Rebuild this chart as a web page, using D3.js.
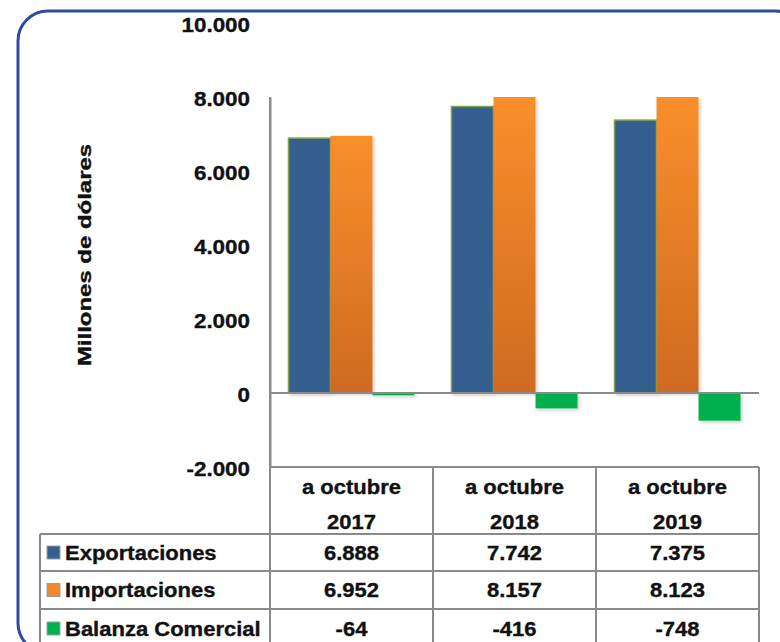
<!DOCTYPE html>
<html>
<head>
<meta charset="utf-8">
<script src="https://cdn.jsdelivr.net/npm/d3@7"></script>
<style>
  html, body { margin: 0; padding: 0; background: #fff; }
  svg { display: block; }
  text { font-family: "Liberation Sans", Arial, sans-serif; font-weight: bold; fill: #111; stroke: #111; stroke-width: 0.35px; }
</style>
</head>
<body>
<script>
const w = 780;
const h = 642;

// data
const years = ['2017', '2018', '2019'];
const headerTop = 'a octubre';
const series = ['Exportaciones', 'Importaciones', 'Balanza Comercial'];
const exportaciones = [6888, 7742, 7375];
const importaciones = [6952, 8157, 8123];
const balanza = [-64, -416, -748];
const yTicks = [-2000, 0, 2000, 4000, 6000, 8000, 10000];
const yTitle = 'Millones de dólares';

const colors = { 'Exportaciones': '#365e8f', 'Importaciones': 'url(#orangeGrad)', 'Balanza Comercial': '#00b050' };
const legendColors = ['#365e8f', '#f28a2c', '#00b050'];
const values = [exportaciones, importaciones, balanza];

const loc = d3.formatLocale({ decimal: ',', thousands: '.', grouping: [3], currency: ['', ''], minus: '-' });
const fmt = loc.format(',d');

const plotLeft = 270, plotRight = 759, plotTop = 97, plotBottom = 467;
const rowYs = [467, 534, 571, 609, 648];
const tableLeft = 40;

const svg = d3.select('body').append('svg').attr('width', w).attr('height', h);

const defs = svg.append('defs');
const og = defs.append('linearGradient').attr('id', 'orangeGrad').attr('x1', 0).attr('y1', 0).attr('x2', 0).attr('y2', 1);
og.append('stop').attr('offset', '0%').attr('stop-color', '#f98f2c');
og.append('stop').attr('offset', '100%').attr('stop-color', '#cf6a20');
const sh = defs.append('filter').attr('id', 'shadow').attr('x', '-20%').attr('y', '-20%').attr('width', '150%').attr('height', '150%');
sh.append('feDropShadow').attr('dx', 2).attr('dy', 2).attr('stdDeviation', 1.5).attr('flood-color', '#000').attr('flood-opacity', 0.18);

// frame
svg.append('rect').attr('x', 18).attr('y', 11).attr('width', 787).attr('height', 642)
  .attr('rx', 30).attr('fill', '#fff').attr('stroke', '#2c4ca0').attr('stroke-width', 3);

// stretch helper: the source text is a bit wider than the font
function stretch(sel, k) {
  sel.each(function () {
    const len = this.getComputedTextLength();
    d3.select(this).attr('textLength', len * k).attr('lengthAdjust', 'spacingAndGlyphs');
  });
}

const y = d3.scaleLinear().domain([-2000, 8000]).range([plotBottom, plotTop]);
const x = d3.scaleBand().domain(years).range([plotLeft, plotRight]);
const xi = d3.scaleBand().domain(series).range([0, x.bandwidth()]).paddingOuter(0.44);

// y axis
const yAxis = svg.append('g').attr('transform', `translate(${plotLeft},0)`)
  .call(d3.axisLeft(y).tickValues(yTicks).tickSize(0).tickPadding(20).tickFormat(fmt));
yAxis.select('.domain').attr('stroke', '#8a8a8a').attr('stroke-width', 2);
yAxis.selectAll('.tick text').attr('font-size', 20).attr('fill', '#111')
  .attr('font-family', '"Liberation Sans", Arial, sans-serif').attr('font-weight', 'bold')
  .attr('dy', '0.42em').call(stretch, 1.12);

svg.append('text')
  .attr('transform', `translate(91,255) rotate(-90)`)
  .attr('text-anchor', 'middle').attr('font-size', 18)
  .text(yTitle).call(stretch, 1.33);

// bars
const bars = svg.append('g').attr('filter', 'url(#shadow)');
years.forEach((yr, i) => {
  series.forEach((s, j) => {
    const v = Math.min(values[j][i], 8000);
    const y0 = y(Math.max(0, v)), y1 = y(Math.min(0, v));
    const r = bars.append('rect')
      .attr('x', x(yr) + xi(s)).attr('width', xi.bandwidth())
      .attr('y', y0).attr('height', Math.max(1, y1 - y0))
      .attr('fill', colors[s]);
    if (j === 0) r.attr('stroke', '#7fa34b').attr('stroke-width', 1.5);
  });
});

// zero line
svg.append('line').attr('x1', plotLeft).attr('x2', plotRight).attr('y1', y(0)).attr('y2', y(0))
  .attr('stroke', '#8a8a8a').attr('stroke-width', 2);

// data table
const grid = svg.append('g').attr('stroke', '#8a8a8a').attr('stroke-width', 2).attr('fill', 'none');
grid.append('line').attr('x1', plotLeft).attr('x2', plotRight).attr('y1', rowYs[0]).attr('y2', rowYs[0]);
rowYs.slice(1).forEach(ry => {
  grid.append('line').attr('x1', tableLeft).attr('x2', plotRight).attr('y1', ry).attr('y2', ry);
});
grid.append('line').attr('x1', tableLeft).attr('x2', tableLeft).attr('y1', rowYs[1]).attr('y2', h);
[...years.map(yr => x(yr)), plotRight].forEach(cx => {
  grid.append('line').attr('x1', cx).attr('x2', cx)
    .attr('y1', cx === plotLeft ? plotTop : rowYs[0]).attr('y2', h);
});

years.forEach(yr => {
  const cx = x(yr) + x.bandwidth() / 2;
  svg.append('text').attr('x', cx).attr('y', 487).attr('dy', '0.35em').attr('text-anchor', 'middle')
    .attr('font-size', 20).text(headerTop).call(stretch, 1.1);
  svg.append('text').attr('x', cx).attr('y', 522).attr('dy', '0.35em').attr('text-anchor', 'middle')
    .attr('font-size', 20).text(yr).call(stretch, 1.1);
});

series.forEach((s, j) => {
  const cy = (rowYs[j + 1] + rowYs[j + 2]) / 2;
  svg.append('rect').attr('x', 47).attr('y', cy - 6.5).attr('width', 13).attr('height', 13)
    .attr('fill', legendColors[j]).attr('stroke', '#9aa0a0').attr('stroke-width', 1);
  svg.append('text').attr('x', 65).attr('y', cy).attr('dy', '0.36em').attr('font-size', 20)
    .text(s).call(stretch, 1.1);
  years.forEach((yr, i) => {
    svg.append('text').attr('x', x(yr) + x.bandwidth() / 2).attr('y', cy).attr('dy', '0.36em')
      .attr('text-anchor', 'middle').attr('font-size', 20)
      .text(fmt(values[j][i])).call(stretch, 1.1);
  });
});
</script>
</body>
</html>
